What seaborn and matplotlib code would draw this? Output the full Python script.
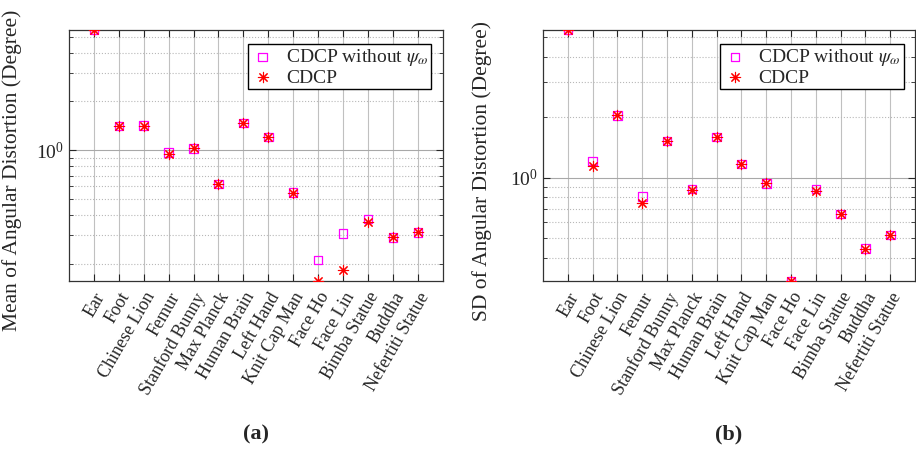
import numpy as np
import pandas as pd
import seaborn as sns
import matplotlib.pyplot as plt
from matplotlib.ticker import LogLocator, NullFormatter

models = ['Ear', 'Foot', 'Chinese Lion', 'Femur', 'Stanford Bunny', 'Max Planck',
          'Human Brain', 'Left Hand', 'Knit Cap Man', 'Face Ho', 'Face Lin',
          'Bimba Statue', 'Buddha', 'Nefertiti Statue']

# mean of angular distortion
mean_wo = [5.5, 1.41, 1.42, 0.97, 1.03, 0.621, 1.47, 1.21, 0.549, 0.212, 0.309, 0.378, 0.292, 0.313]
mean_cdcp = [5.5, 1.41, 1.42, 0.945, 1.03, 0.621, 1.47, 1.21, 0.549, 0.157, 0.184, 0.364, 0.292, 0.313]
# SD of angular distortion
sd_wo = [5.42, 1.21, 2.04, 0.807, 1.52, 0.878, 1.59, 1.17, 0.937, 0.306, 0.878, 0.661, 0.444, 0.519]
sd_cdcp = [5.42, 1.14, 2.04, 0.747, 1.52, 0.870, 1.59, 1.17, 0.937, 0.306, 0.861, 0.661, 0.444, 0.519]

label_wo = r'CDCP without $\psi_\omega$'
label_cdcp = 'CDCP'
ylabels = ['Mean of Angular Distortion (Degree)', 'SD of Angular Distortion (Degree)']
captions = ['(a)', '(b)']

sns.set_style('ticks')
plt.rcParams['font.family'] = ['Liberation Serif', 'DejaVu Serif']
plt.rcParams['mathtext.fontset'] = 'stix'

fig = plt.figure(figsize=(9.16, 4.49), dpi=100)
ax1 = fig.add_axes([0.0753, 0.374, 0.408, 0.559])
ax2 = fig.add_axes([0.5928, 0.374, 0.4062, 0.559])

x = np.arange(1, len(models) + 1)
star = (8, 2, 0)

for ax, wo, cd, yl, cap, lx in zip([ax1, ax2], [mean_wo, sd_wo], [mean_cdcp, sd_cdcp],
                                   ylabels, captions, [-0.125, -0.137]):
    sns.scatterplot(x=x, y=wo, ax=ax, marker='s', s=38, color='magenta',
                    facecolor='none', edgecolor='magenta', linewidth=0.9, label=label_wo, zorder=3)
    sns.scatterplot(x=x, y=cd, ax=ax, marker=star, s=55, color='red',
                    linewidth=0.8, label=label_cdcp, zorder=4)
    ax.set_yscale('log')
    lo = min(min(wo), min(cd))
    hi = max(max(wo), max(cd))
    ax.set_ylim(lo, hi)
    ax.set_xlim(0, len(models) + 1)
    ax.set_xticks(x)
    ax.set_xticklabels(models, rotation=60, ha='right', rotation_mode='anchor', fontsize=13)
    ax.yaxis.set_major_locator(LogLocator(base=10, numticks=10))
    ax.yaxis.set_minor_locator(LogLocator(base=10, subs=np.arange(2, 10), numticks=10))
    ax.yaxis.set_minor_formatter(NullFormatter())
    ax.tick_params(axis='y', which='major', labelsize=14)
    ax.tick_params(axis='x', which='major', pad=6)
    ax.tick_params(which='both', direction='in', top=True, right=True)
    ax.tick_params(which='major', length=5)
    ax.tick_params(which='minor', length=3)
    ax.grid(True, axis='x', which='major', color='#c0c0c0', linewidth=0.8)
    ax.grid(True, axis='y', which='major', color='#a8a8a8', linewidth=0.8)
    ax.grid(True, axis='y', which='minor', color='#b8b8b8', linestyle=':', linewidth=0.8)
    ax.set_axisbelow(True)
    for sp in ax.spines.values():
        sp.set_color('#333333')
        sp.set_linewidth(0.9)
    ax.set_ylabel(yl, fontsize=15.5)
    ax.yaxis.set_label_coords(lx, 0.44)
    ax.legend(loc='upper right', bbox_to_anchor=(0.98, 0.96), fancybox=False, edgecolor='black',
              framealpha=1, fontsize=14, borderpad=0.15, handletextpad=0.6, labelspacing=0.05,
              handlelength=1.2, borderaxespad=0.2)
    ax.text(0.5, -0.61, cap, transform=ax.transAxes, ha='center', va='center',
            fontsize=16, fontweight='bold')

fig.savefig('out.png', dpi=100)
